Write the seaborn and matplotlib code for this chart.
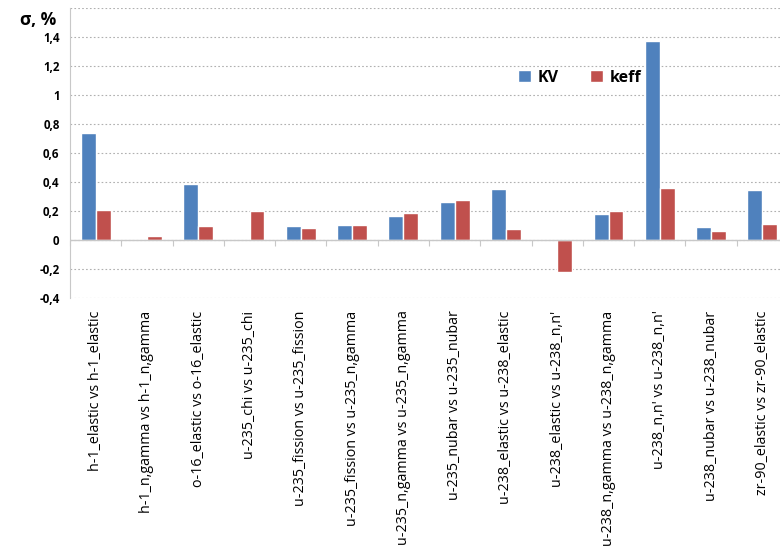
import pandas as pd
import numpy as np
import matplotlib
matplotlib.use("Agg")
import matplotlib.pyplot as plt
import seaborn as sns
from matplotlib.ticker import FixedLocator, FixedFormatter

# categories (pairs of reactions)
pairs = [
    "h-1_elastic vs h-1_elastic",
    "h-1_n,gamma vs h-1_n,gamma",
    "o-16_elastic vs o-16_elastic",
    "u-235_chi vs u-235_chi",
    "u-235_fission vs u-235_fission",
    "u-235_fission vs u-235_n,gamma",
    "u-235_n,gamma vs u-235_n,gamma",
    "u-235_nubar vs u-235_nubar",
    "u-238_elastic vs u-238_elastic",
    "u-238_elastic vs u-238_n,n'",
    "u-238_n,gamma vs u-238_n,gamma",
    "u-238_n,n' vs u-238_n,n'",
    "u-238_nubar vs u-238_nubar",
    "zr-90_elastic vs zr-90_elastic",
]
# values
kv = [0.738, 0.0, 0.384, 0.0, 0.097, 0.106, 0.166, 0.262, 0.354, 0.0, 0.179, 1.372, 0.090, 0.345]
keff = [0.207, 0.028, 0.097, 0.200, 0.083, 0.106, 0.186, 0.274, 0.074, -0.220, 0.200, 0.361, 0.062, 0.113]
yticks = [-0.4, -0.2, 0, 0.2, 0.4, 0.6, 0.8, 1.0, 1.2, 1.4, 1.6]
ytick_labels = ["-0,4", "-0,2", "0", "0,2", "0,4", "0,6", "0,8", "1", "1,2", "1,4", ""]

df = pd.DataFrame({
    "pair": pairs * 2,
    "value": kv + keff,
    "series": ["KV"] * len(pairs) + ["keff"] * len(pairs),
})

sns.set_style("white")
plt.rcParams["font.family"] = ["Open Sans", "DejaVu Sans"]
plt.rcParams["text.color"] = "black"
plt.rcParams["xtick.color"] = "black"
plt.rcParams["ytick.color"] = "black"

fig = plt.figure(figsize=(7.8, 5.56), dpi=100)
ax = fig.add_axes([70 / 780, 1 - 298 / 556, 718 / 780, 290 / 556])

sns.barplot(data=df, x="pair", y="value", hue="series", order=pairs,
            palette={"KV": "#4F81BD", "keff": "#C0504D"}, width=0.58,
            saturation=1, ax=ax, legend=True)

ax.set_ylim(-0.4, 1.6)
ax.set_xlim(-0.5, len(pairs) - 0.5)
ax.yaxis.set_major_locator(FixedLocator(yticks))
ax.yaxis.set_major_formatter(FixedFormatter(ytick_labels))
ax.grid(axis="y", linestyle=(0, (1.5, 2)), color="#b0b0b0", linewidth=0.8)
ax.set_axisbelow(True)
for s in ["top", "right", "bottom"]:
    ax.spines[s].set_visible(False)
ax.spines["left"].set_color("#c8c8c8")
ax.tick_params(axis="y", length=4, color="#c8c8c8", labelcolor="black", labelsize=8.3)
for t in ax.get_yticklabels():
    t.set_fontweight("bold")
ax.set_xlabel("")
ax.set_ylabel("")
ax.tick_params(axis="x", length=0, pad=9, labelsize=10.3, labelcolor="black")
plt.setp(ax.get_xticklabels(), rotation=90, va="top", ha="center")

# category axis at zero with ticks between groups
ax.axhline(0, color="#c8c8c8", linewidth=1, zorder=1)
sec = ax.secondary_xaxis(0.2)
sec.set_xticks(np.arange(len(pairs) + 1) - 0.5)
sec.set_xticklabels([])
sec.tick_params(length=4, color="#c8c8c8")
sec.spines["bottom"].set_visible(False)

fig.text(20 / 780, 1 - 20 / 556, "σ, %", fontsize=12.5, fontweight="bold", va="center")

leg = ax.legend(loc="center", bbox_to_anchor=(0.71, 0.76), ncol=2, frameon=False,
                handlelength=0.8, handleheight=0.8, columnspacing=2.0,
                handletextpad=0.4, prop={"weight": "bold", "size": 11.5})

fig.savefig("out.png", dpi=100)
